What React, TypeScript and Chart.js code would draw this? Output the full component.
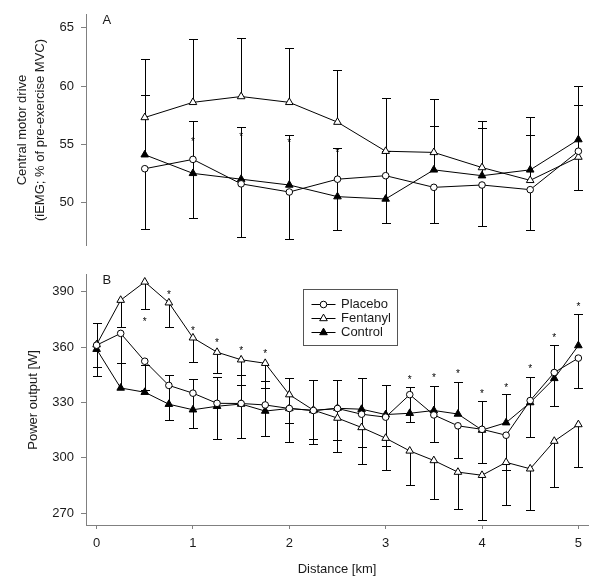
import React, { useEffect, useRef } from 'react';
import { Chart, registerables } from 'chart.js';

Chart.register(...registerables);

const FONT = "'Liberation Sans', Arial, Helvetica, sans-serif";
const TEXT = '#1a1a1a';
const AXIS = '#808080';

// ---------- Panel A: central motor drive ----------
const distanceA = [0.5, 1, 1.5, 2, 2.5, 3, 3.5, 4, 4.5, 5];
const placeboA = [52.9, 53.7, 51.6, 50.9, 52.0, 52.3, 51.3, 51.5, 51.1, 54.4];
const placeboA_sd = [5.2, 5.0, 4.6, 4.0, 4.4, 4.1, 3.1, 3.5, 3.5, 3.3];
const fentanylA = [57.3, 58.6, 59.1, 58.6, 56.9, 54.4, 54.3, 53.0, 51.9, 53.9];
const fentanylA_sd = [5.0, 5.4, 5.0, 4.7, 4.5, 4.6, 4.6, 4.0, 3.9, 4.5];
const controlA = [54.1, 52.5, 52.0, 51.5, 50.5, 50.3, 52.8, 52.3, 52.8, 55.4];
const controlA_sd = [5.1, 4.5, 4.5, 4.3, 4.2, 4.1, 3.8, 4.1, 4.5, 4.6];
const sigA_x = [1, 1.5, 2, 2.5];
const sigA_y = [55.45, 55.85, 55.37, 54.52];
const yTicksA = [50, 55, 60, 65];

// ---------- Panel B: power output ----------
const distanceB = [0, 0.25, 0.5, 0.75, 1, 1.25, 1.5, 1.75, 2, 2.25, 2.5, 2.75, 3, 3.25, 3.5, 3.75, 4, 4.25, 4.5, 4.75, 5];
const placeboB = [361.0, 367.4, 352.3, 339.2, 335.0, 329.5, 329.4, 328.6, 326.7, 325.6, 326.7, 323.6, 322.0, 334.2, 323.2, 317.3, 315.4, 312.2, 331.0, 346.2, 354.0];
const placeboB_sd = [12, 16.2, 15.7, 18.5, 18.7, 19.2, 18.9, 17, 18.1, 18.3, 16.9, 17.9, 15.8, 15.1, 14.7, 17.5, 18.5, 18.8, 19.6, 18.4, 16.1];
const fentanylB = [361.3, 385.4, 395.3, 384.0, 365.0, 357.2, 353.1, 351.2, 334.2, 325.8, 321.5, 316.4, 310.6, 303.7, 298.5, 292.2, 290.5, 297.5, 294.0, 309.0, 318.0];
const fentanylB_sd = [17, 14.5, 14.9, 12.9, 13.2, 11.5, 13.6, 13.2, 15.6, 15.8, 18.2, 19.7, 17.5, 18.7, 21, 20.1, 24.2, 22.9, 22.2, 24.6, 23];
const controlB = [358.8, 337.8, 335.5, 329.0, 326.0, 327.9, 329.1, 325.3, 326.7, 325.6, 326.8, 326.3, 323.4, 324.1, 325.6, 323.7, 315.0, 319.0, 329.9, 343.0, 360.8];
const controlB_sd = [14, 13.8, 15, 16, 16.5, 15.6, 15.8, 16.1, 16.3, 16.3, 15.4, 16.9, 16.2, 14, 13.1, 17.4, 15.8, 15.4, 14, 18.2, 17.2];
const sigB_x = [0.5, 0.75, 1, 1.25, 1.5, 1.75, 3.25, 3.5, 3.75, 4, 4.25, 4.5, 4.75, 5];
const sigB_y = [375.1, 389.6, 370.1, 363.6, 359.3, 357.7, 343.7, 344.8, 346.9, 335.8, 339.4, 349.5, 366.3, 383.2];
const yTicksB = [270, 300, 330, 360, 390];

const xTicks = [0, 1, 2, 3, 4, 5];
const seriesNames = ['Placebo', 'Fentanyl', 'Control'];
const xLabel = 'Distance [km]';
const yLabelA = ['Central motor drive', '(iEMG; % of pre-exercise MVC)'];
const yLabelB = 'Power output [W]';

const CIRCLE_R = 3.3;
const TRI_R = 4.4;

type ErrSpec = { xs: number[]; ys: number[]; sd: number[]; dir: number };

function errorPlugin(specs: ErrSpec[]) {
  return {
    id: 'errbars',
    beforeDatasetsDraw(chart: any) {
      const { ctx } = chart;
      const xs = chart.scales.x;
      const ys = chart.scales.y;
      ctx.save();
      ctx.strokeStyle = '#000';
      ctx.lineWidth = 1;
      specs.forEach((s) => {
        s.xs.forEach((xv, i) => {
          const px = Math.round(xs.getPixelForValue(xv)) + 0.5;
          const p0 = ys.getPixelForValue(s.ys[i]);
          const p1 = Math.round(ys.getPixelForValue(s.ys[i] + s.dir * s.sd[i])) + 0.5;
          ctx.beginPath();
          ctx.moveTo(px, p0);
          ctx.lineTo(px, p1);
          ctx.moveTo(px - 4.5, p1);
          ctx.lineTo(px + 4.5, p1);
          ctx.stroke();
        });
      });
      ctx.restore();
    },
  };
}

function annotPlugin(label: string, sx: number[], sy: number[]) {
  return {
    id: 'annot',
    afterDatasetsDraw(chart: any) {
      const { ctx, chartArea } = chart;
      const xs = chart.scales.x;
      const ys = chart.scales.y;
      ctx.save();
      ctx.fillStyle = TEXT;
      ctx.font = `13px ${FONT}`;
      ctx.textAlign = 'left';
      ctx.textBaseline = 'middle';
      ctx.fillText(label, chartArea.left + 16.5, chartArea.top + 6);
      ctx.fillStyle = '#000';
      ctx.font = `10px ${FONT}`;
      ctx.textAlign = 'center';
      ctx.textBaseline = 'alphabetic';
      sx.forEach((x, i) => {
        const px = xs.getPixelForValue(x);
        const py = ys.getPixelForValue(sy[i]);
        ctx.fillText('*', px, py + 5.7);
      });
      ctx.restore();
    },
  };
}

function drawMarker(ctx: CanvasRenderingContext2D, kind: number, x: number, y: number) {
  ctx.beginPath();
  if (kind === 0) {
    ctx.arc(x, y, CIRCLE_R, 0, Math.PI * 2);
  } else {
    let rad = 0;
    ctx.moveTo(x + Math.sin(rad) * TRI_R, y - Math.cos(rad) * TRI_R);
    rad += (2 * Math.PI) / 3;
    ctx.lineTo(x + Math.sin(rad) * TRI_R, y - Math.cos(rad) * TRI_R);
    rad += (2 * Math.PI) / 3;
    ctx.lineTo(x + Math.sin(rad) * TRI_R, y - Math.cos(rad) * TRI_R);
    ctx.closePath();
  }
  ctx.fillStyle = kind === 2 ? '#000' : '#fff';
  ctx.fill();
  ctx.strokeStyle = '#000';
  ctx.lineWidth = 1;
  ctx.stroke();
}

const legendPlugin = {
  id: 'boxLegend',
  afterDraw(chart: any) {
    const { ctx, chartArea } = chart;
    const bx = Math.round(chartArea.left + 217) + 0.5;
    const by = Math.round(chartArea.top + 14) + 0.5;
    const bw = 94;
    const bh = 56;
    ctx.save();
    ctx.fillStyle = '#fff';
    ctx.fillRect(bx, by, bw, bh);
    ctx.strokeStyle = '#555';
    ctx.lineWidth = 1;
    ctx.strokeRect(bx, by, bw, bh);
    seriesNames.forEach((name, i) => {
      const ry = by + 15 + i * 14;
      ctx.strokeStyle = '#000';
      ctx.beginPath();
      ctx.moveTo(bx + 8, ry);
      ctx.lineTo(bx + 32, ry);
      ctx.stroke();
      drawMarker(ctx, i, bx + 20, ry);
      ctx.fillStyle = TEXT;
      ctx.font = `13px ${FONT}`;
      ctx.textAlign = 'left';
      ctx.textBaseline = 'middle';
      ctx.fillText(name, bx + 37.5, ry);
    });
    ctx.restore();
  },
};

function makeDatasets(xs: number[], p: number[], f: number[], c: number[]) {
  const common = { borderColor: '#000', borderWidth: 1, pointBorderColor: '#000', pointBorderWidth: 1, showLine: true, tension: 0 };
  return [
    { ...common, label: seriesNames[0], data: xs.map((x, i) => ({ x, y: p[i] })), pointStyle: 'circle', pointRadius: CIRCLE_R, pointBackgroundColor: '#fff' },
    { ...common, label: seriesNames[1], data: xs.map((x, i) => ({ x, y: f[i] })), pointStyle: 'triangle', pointRadius: TRI_R, pointBackgroundColor: '#fff' },
    { ...common, label: seriesNames[2], data: xs.map((x, i) => ({ x, y: c[i] })), pointStyle: 'triangle', pointRadius: TRI_R, pointBackgroundColor: '#000' },
  ];
}

function yScale(min: number, max: number, ticks: number[], title: any, titlePad: number) {
  return {
    type: 'linear',
    min,
    max,
    afterFit: (s: any) => { s.width = 86; },
    afterBuildTicks: (s: any) => { s.ticks = ticks.map((v) => ({ value: v })); },
    grid: { drawOnChartArea: false, drawTicks: true, tickLength: 5, color: AXIS },
    border: { display: true, color: AXIS, width: 1 },
    ticks: { padding: 7, color: TEXT, font: { family: FONT, size: 13 } },
    title: { display: true, text: title, color: TEXT, font: { family: FONT, size: 13, lineHeight: '18px' }, padding: { top: titlePad, bottom: 0 } },
  };
}

export default function App() {
  const refA = useRef<HTMLCanvasElement>(null);
  const refB = useRef<HTMLCanvasElement>(null);

  useEffect(() => {
    const chartA = new Chart(refA.current as HTMLCanvasElement, {
      type: 'line',
      data: { datasets: makeDatasets(distanceA, placeboA, fentanylA, controlA) as any },
      options: {
        responsive: false,
        animation: false,
        devicePixelRatio: 1,
        layout: { padding: { top: 8, right: 12, bottom: 4, left: 0 } },
        plugins: { legend: { display: false }, tooltip: { enabled: false } },
        scales: {
          x: { type: 'linear', display: false, min: -0.11, max: 5.1 },
          y: yScale(46.33, 66.12, yTicksA, yLabelA, 13) as any,
        },
      },
      plugins: [
        errorPlugin([
          { xs: distanceA, ys: placeboA, sd: placeboA_sd, dir: -1 },
          { xs: distanceA, ys: fentanylA, sd: fentanylA_sd, dir: 1 },
          { xs: distanceA, ys: controlA, sd: controlA_sd, dir: 1 },
        ]),
        annotPlugin('A', sigA_x, sigA_y),
      ],
    });

    const chartB = new Chart(refB.current as HTMLCanvasElement, {
      type: 'line',
      data: { datasets: makeDatasets(distanceB, placeboB, fentanylB, controlB) as any },
      options: {
        responsive: false,
        animation: false,
        devicePixelRatio: 1,
        layout: { padding: { top: 13, right: 12, bottom: 0, left: 0 } },
        plugins: { legend: { display: false }, tooltip: { enabled: false } },
        scales: {
          x: {
            type: 'linear',
            min: -0.11,
            max: 5.1,
            afterFit: (s: any) => { s.height = 61; },
            afterBuildTicks: (s: any) => { s.ticks = xTicks.map((v) => ({ value: v })); },
            grid: { drawOnChartArea: false, drawTicks: true, tickLength: 4, color: AXIS },
            border: { display: true, color: AXIS, width: 1 },
            ticks: { padding: 7, color: TEXT, font: { family: FONT, size: 13 }, maxRotation: 0 },
            title: { display: true, text: xLabel, color: TEXT, font: { family: FONT, size: 13, lineHeight: '18px' }, padding: { top: 4, bottom: 8 } },
          } as any,
          y: yScale(263.54, 399.15, yTicksB, yLabelB, 24) as any,
        },
      },
      plugins: [
        errorPlugin([
          { xs: distanceB, ys: placeboB, sd: placeboB_sd, dir: -1 },
          { xs: distanceB, ys: fentanylB, sd: fentanylB_sd, dir: -1 },
          { xs: distanceB, ys: controlB, sd: controlB_sd, dir: 1 },
        ]),
        annotPlugin('B', sigB_x, sigB_y),
        legendPlugin,
      ],
    });

    return () => {
      chartA.destroy();
      chartB.destroy();
    };
  }, []);

  return (
    <div style={{ position: 'absolute', left: 0, top: 0, width: 600, height: 586, background: '#fff' }}>
      <canvas ref={refA} width={600} height={260} style={{ position: 'absolute', left: 0, top: 0, display: 'block' }} />
      <canvas ref={refB} width={600} height={326} style={{ position: 'absolute', left: 0, top: 260, display: 'block' }} />
    </div>
  );
}
